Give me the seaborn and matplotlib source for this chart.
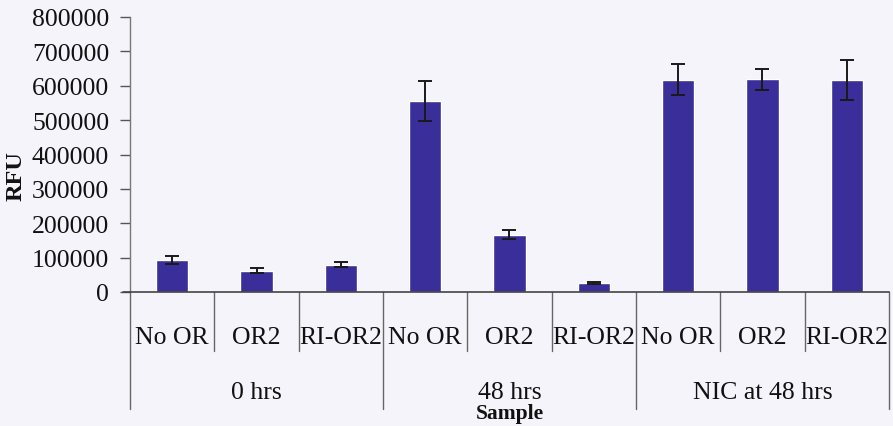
import matplotlib
matplotlib.use("Agg")
import matplotlib.pyplot as plt
import seaborn as sns
import pandas as pd

# Fluorescence readings (RFU) per sample, grouped by time point
groups = ["0 hrs", "48 hrs", "NIC at 48 hrs"]
samples = ["No OR", "OR2", "RI-OR2"]
rfu_0h = [93000, 62000, 80000]
rfu_48h = [556000, 166000, 26000]
rfu_nic = [618000, 619000, 617000]
err_0h = [12000, 7000, 7000]
err_48h = [58000, 13000, 3000]
err_nic = [45000, 31000, 58000]
y_ticks = [0, 100000, 200000, 300000, 400000, 500000, 600000, 700000, 800000]

rows = []
for g, vals, errs in zip(groups, [rfu_0h, rfu_48h, rfu_nic], [err_0h, err_48h, err_nic]):
    for s, v, e in zip(samples, vals, errs):
        rows.append({"key": f"{g}|{s}", "group": g, "sample": s, "rfu": v, "err": e})
df = pd.DataFrame(rows)
order = list(df["key"])

sns.set_theme(style="white")
plt.rcParams["font.family"] = ["Liberation Serif", "DejaVu Serif"]

bg = "#f4f4fa"
bar_color = "#3a2f9a"
fs = 18.5

fig = plt.figure(figsize=(8.93, 4.27), dpi=100, facecolor=bg)
W, H = 893, 427
x0, x1, ytop, ybot = 130, 889, 18, 293
ax = fig.add_axes([x0 / W, 1 - ybot / H, (x1 - x0) / W, (ybot - ytop) / H])
ax.set_facecolor(bg)

sns.barplot(data=df, x="key", y="rfu", order=order, color=bar_color,
            saturation=1, width=0.38, errorbar=None, ax=ax)

centers = [p.get_x() + p.get_width() / 2 for p in ax.patches]
ax.errorbar(centers, df["rfu"], yerr=df["err"], fmt="none", ecolor="#1a1a1a",
            elinewidth=1.4, capsize=5, capthick=1.4, zorder=5)

ax.set_ylim(0, 800000)
ax.set_xlim(-0.5, len(order) - 0.5)
ax.set_yticks(y_ticks)
ax.set_yticklabels([str(t) for t in y_ticks], fontsize=fs, color="#111111")
ax.tick_params(axis="y", direction="out", length=7, width=1, color="#555555", pad=8, left=True)
ax.set_xticks([])
ax.set_xlabel("")
ax.set_ylabel("")

for side in ["top", "right"]:
    ax.spines[side].set_visible(False)
ax.spines["left"].set_color("#777777")
ax.spines["bottom"].set_color("#444444")
ax.spines["left"].set_linewidth(1)
ax.spines["bottom"].set_linewidth(1.2)

# Hierarchical category axis drawn below the plot
trans = ax.get_xaxis_transform()
px = 1.0 / (ybot - ytop)  # one pixel in axes-fraction units
for i, s in enumerate(df["sample"]):
    ax.text(i, -45 * px, s, transform=trans, ha="center", va="center",
            fontsize=fs, color="#111111", clip_on=False)
for k in range(len(order) + 1):
    depth = 117 if k % 3 == 0 else 59
    ax.plot([k - 0.5, k - 0.5], [0, -depth * px], transform=trans,
            color="#666666", lw=1, clip_on=False)
ax.plot([-0.5 - 7 / 84.3, -0.5], [0, 0], transform=trans, color="#444444",
        lw=1.2, clip_on=False)
for j, g in enumerate(groups):
    ax.text(3 * j + 1, -100 * px, g, transform=trans, ha="center", va="center",
            fontsize=fs, color="#111111", clip_on=False)

fig.text((x0 + x1) / 2 / W, 1 - 414 / H, "Sample", ha="center", va="center",
         fontsize=15.5, fontweight="bold", color="#111111")
fig.text(16 / W, 1 - 176 / H, "RFU", ha="center", va="center", rotation=90,
         fontsize=17.5, fontweight="bold", color="#111111")

fig.savefig("out.png", dpi=100, facecolor=bg)
